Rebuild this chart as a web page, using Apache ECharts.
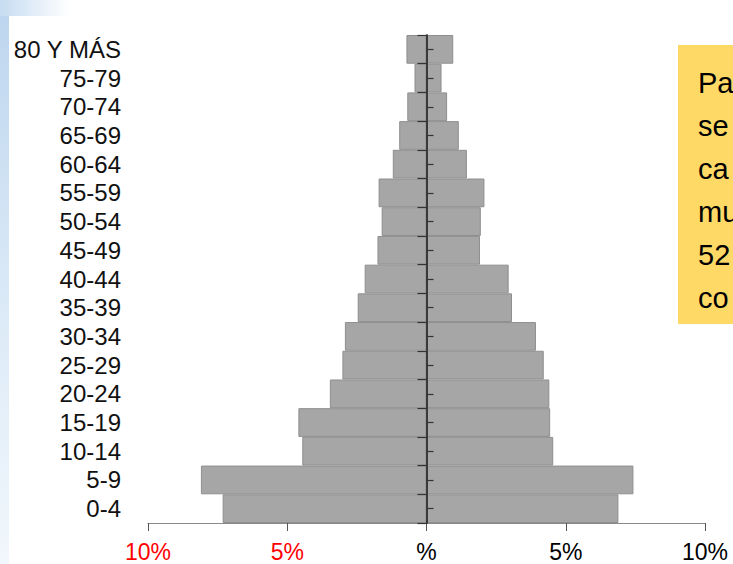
<!DOCTYPE html>
<html><head><meta charset="utf-8">
<script src="https://cdn.jsdelivr.net/npm/echarts@6/dist/echarts.min.js"></script>
<style>
html,body{margin:0;padding:0;background:#fff;}
#wrap{position:relative;width:733px;height:564px;overflow:hidden;background:#fff;}
#stripe{position:absolute;left:0;top:0;width:9px;height:564px;background:linear-gradient(to bottom,#bcd5ee,#dceaf7 55%,#f1f7fc);}
#band{position:absolute;left:0;top:0;width:70px;height:16px;background:linear-gradient(to right,#c6dcf1,#ffffff);}
#chart{position:absolute;left:0;top:0;width:733px;height:564px;}
</style></head>
<body><div id="wrap"><div id="stripe"></div><div id="band"></div><div id="chart"></div></div>
<script>
// Age groups, bottom to top
const categories = ['0-4','5-9','10-14','15-19','20-24','25-29','30-34','35-39','40-44','45-49','50-54','55-59','60-64','65-69','70-74','75-79','80 Y MÁS'];
// Percent of population, left side (drawn to the left of zero)
const leftValues = [7.32, 8.10, 4.46, 4.60, 3.47, 3.02, 2.93, 2.47, 2.22, 1.76, 1.61, 1.72, 1.21, 0.98, 0.69, 0.43, 0.72];
// Percent of population, right side
const rightValues = [6.89, 7.43, 4.55, 4.44, 4.41, 4.21, 3.93, 3.07, 2.95, 1.92, 1.95, 2.08, 1.45, 1.16, 0.74, 0.54, 0.96];
const xTicks = [-10, -5, 0, 5, 10];
const boxLines = ['Pa', 'se', 'ca', 'mu', '52', 'co'];

const FONT = "'Liberation Sans', Arial, sans-serif";
const GRID = {left: 148, right: 28, top: 35, bottom: 41};
const chart = echarts.init(document.getElementById('chart'), null, {renderer: 'svg'});
const barStyle = {color: '#a6a6a6', borderColor: '#8e8e8e', borderWidth: 1};

function tickAxis(inside, len, align) {
  return {
    type: 'category', data: categories, position: 'left', gridIndex: 1, z: 20,
    axisLine: {show: true, onZero: false, lineStyle: {color: '#333', width: 1.5}},
    axisTick: {show: true, inside: inside, alignWithLabel: align, interval: 0, length: len, lineStyle: {color: '#333', width: 1.2}},
    axisLabel: {show: false}, splitLine: {show: false}
  };
}

function build(zeroX) {
  return {
    animation: false,
    grid: [
      {left: GRID.left, right: GRID.right, top: GRID.top, bottom: GRID.bottom, containLabel: false},
      {left: zeroX, right: GRID.right, top: GRID.top, bottom: GRID.bottom, containLabel: false}
    ],
    xAxis: [
      {
        type: 'value', gridIndex: 0, min: xTicks[0], max: xTicks[xTicks.length - 1], interval: 5, z: 15,
        axisLine: {show: true, onZero: false, lineStyle: {color: '#8a8a8a', width: 1}},
        axisTick: {show: true, length: 8, lineStyle: {color: '#555', width: 1}},
        splitLine: {show: false},
        axisLabel: {
          margin: 17, fontSize: 23, fontFamily: FONT,
          formatter: v => (Number(v) === 0 ? '%' : Math.abs(Number(v)) + '%'),
          color: v => (Number(v) < 0 ? '#ff0000' : '#000000')
        }
      },
      {type: 'value', gridIndex: 1, min: 0, max: 1, show: false}
    ],
    yAxis: [
      {
        type: 'category', data: categories, position: 'left', gridIndex: 0,
        axisLine: {show: false, onZero: false},
        axisTick: {show: false},
        axisLabel: {margin: 27, interval: 0, fontSize: 24, fontFamily: FONT, color: '#111'}
      },
      tickAxis(false, 9, false),
      tickAxis(true, 7, true)
    ],
    series: [
      {
        type: 'bar', xAxisIndex: 0, yAxisIndex: 0, data: leftValues.map(v => -v),
        barGap: '-100%', barCategoryGap: 0, itemStyle: barStyle, silent: true, z: 1
      },
      {
        type: 'bar', xAxisIndex: 0, yAxisIndex: 0, data: rightValues,
        barGap: '-100%', barCategoryGap: 0, itemStyle: barStyle, silent: true, z: 1
      }
    ],
    graphic: [
      {type: 'rect', left: 678, top: 45, shape: {width: 80, height: 279}, style: {fill: '#ffd966'}, z: 10},
      {type: 'text', left: 698, top: 61, z: 11,
       style: {text: boxLines.join('\n'), font: '29px ' + FONT, lineHeight: 43, fill: '#000'}}
    ]
  };
}

chart.setOption(build(GRID.left));
// place the tick axes on the zero line of the value axis
let zeroX = chart.convertToPixel({xAxisIndex: 0}, 0);
if (Array.isArray(zeroX)) zeroX = zeroX[0];
if (!isFinite(zeroX)) zeroX = GRID.left + (733 - GRID.left - GRID.right) / 2;
chart.setOption(build(Math.round(zeroX * 2) / 2), {notMerge: true});
</script></body></html>
